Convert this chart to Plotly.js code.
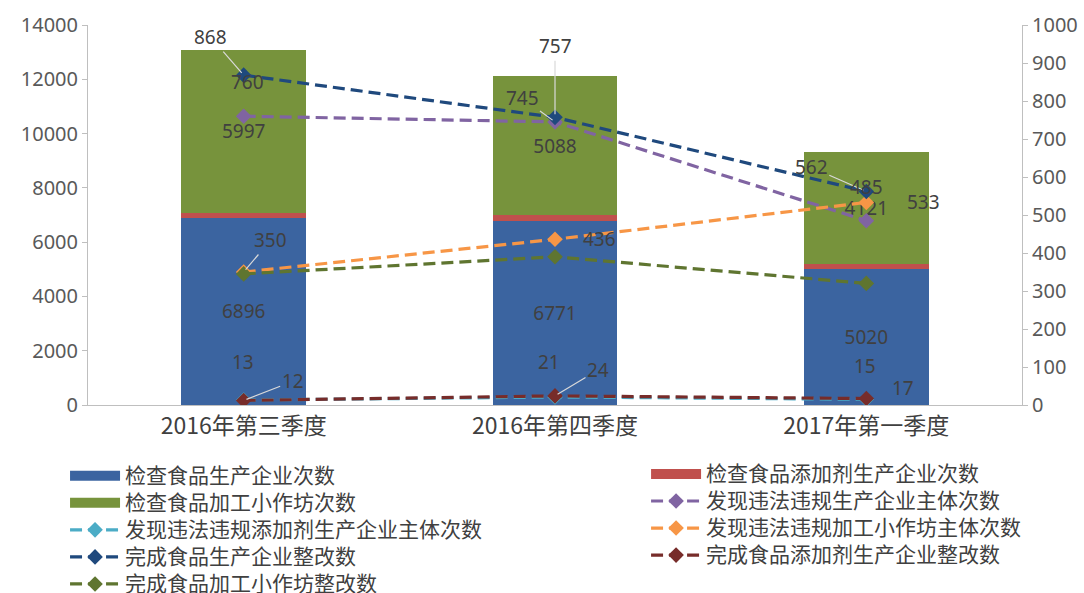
<!DOCTYPE html>
<html>
<head>
<meta charset="utf-8">
<script src="https://cdn.plot.ly/plotly-3.0.1.min.js"></script>
<style>html,body{margin:0;padding:0;background:#fff;}#chart{width:1084px;height:593px;}</style>
</head>
<body>
<div id="chart"></div>
<script>
// ---- data ----
const categories = ['2016年第三季度', '2016年第四季度', '2017年第一季度'];
const prodInspect = [6896, 6771, 5020];       // 检查食品生产企业次数
const additiveInspect = [185, 245, 180];      // 检查食品添加剂生产企业次数
const workshopInspect = [5997, 5088, 4121];   // 检查食品加工小作坊次数
const violProd = [760, 745, 485];             // 发现违法违规生产企业主体次数
const violAdditive = [13, 21, 15];            // 发现违法违规添加剂生产企业主体次数
const violWorkshop = [350, 436, 533];         // 发现违法违规加工小作坊主体次数
const rectProd = [868, 757, 562];             // 完成食品生产企业整改数
const rectAdditive = [12, 24, 17];            // 完成食品添加剂生产企业整改数
const rectWorkshop = [345, 390, 320];         // 完成食品加工小作坊整改数

const names = {
  prodInspect: '检查食品生产企业次数',
  additiveInspect: '检查食品添加剂生产企业次数',
  workshopInspect: '检查食品加工小作坊次数',
  violProd: '发现违法违规生产企业主体次数',
  violAdditive: '发现违法违规添加剂生产企业主体次数',
  violWorkshop: '发现违法违规加工小作坊主体次数',
  rectProd: '完成食品生产企业整改数',
  rectAdditive: '完成食品添加剂生产企业整改数',
  rectWorkshop: '完成食品加工小作坊整改数'
};

const C = {
  blue: '#3b64a0', red: '#c0504d', green: '#77933c',
  purple: '#8064a2', cyan: '#4bacc6', orange: '#f79646',
  darkblue: '#1f497d', darkred: '#772c2a', olive: '#5f7530'
};

const FONT = 'Noto Sans, Noto Sans CJK SC, sans-serif';
const labelFont = {family: FONT, size: 19, color: '#404040'};

function legendName(n) {
  return '<span style="font-size:21px">' + n + '</span>';
}

function bar(y, name, color, showText) {
  return {
    type: 'bar', x: categories, y: y, name: name, showlegend: false,
    marker: {color: color},
    text: showText ? y.map(String) : undefined,
    textposition: showText ? 'inside' : 'none',
    insidetextanchor: 'middle', textangle: 0, constraintext: 'none',
    textfont: labelFont, hoverinfo: 'skip'
  };
}
function legendRect(name, color, legend) {
  return {
    type: 'scatter', mode: 'lines', x: [null], y: [null], name: legendName(name),
    line: {color: color, width: 13}, legend: legend, hoverinfo: 'skip'
  };
}
function line(y, name, color, legend) {
  return {
    type: 'scatter', mode: 'lines+markers', x: categories, y: y, name: legendName(name),
    yaxis: 'y2', legend: legend,
    line: {color: color, width: 3.2, dash: '12px,6px'},
    marker: {symbol: 'diamond', size: 12, color: color},
    hoverinfo: 'skip'
  };
}

const traces = [
  bar(prodInspect, names.prodInspect, C.blue, true),
  bar(additiveInspect, names.additiveInspect, C.red, false),
  bar(workshopInspect, names.workshopInspect, C.green, true),
  legendRect(names.prodInspect, C.blue, 'legend'),
  legendRect(names.workshopInspect, C.green, 'legend'),
  legendRect(names.additiveInspect, C.red, 'legend2'),
  line(violProd, names.violProd, C.purple, 'legend2'),
  line(violAdditive, names.violAdditive, C.cyan, 'legend'),
  line(violWorkshop, names.violWorkshop, C.orange, 'legend2'),
  line(rectProd, names.rectProd, C.darkblue, 'legend'),
  line(rectAdditive, names.rectAdditive, C.darkred, 'legend2'),
  line(rectWorkshop, names.rectWorkshop, C.olive, 'legend')
];

// label placement: [series, index, dx, dy, leader]
const labelSpecs = [
  [rectProd, 0, -33, -38, true],
  [violProd, 0, 4, -34, false],
  [violWorkshop, 0, 27, -32, true],
  [violAdditive, 0, -1, -38, false],
  [rectAdditive, 0, 49, -19, true],
  [rectProd, 1, 0, -71, true],
  [violProd, 1, -33, -24, true],
  [violWorkshop, 1, 44, 0, false],
  [violAdditive, 1, -6, -35, false],
  [rectAdditive, 1, 43, -26, true],
  [rectProd, 2, -55, -24, true],
  [violProd, 2, 0, -34, false],
  [violWorkshop, 2, 57, 0, false],
  [violAdditive, 2, -1, -33, false],
  [rectAdditive, 2, 37, -11, false]
];
const annotations = labelSpecs.map(function (s) {
  const base = {
    x: categories[s[1]], y: s[0][s[1]], xref: 'x', yref: 'y2',
    text: String(s[0][s[1]]), font: labelFont
  };
  if (s[4]) {
    return Object.assign(base, {showarrow: true, ax: s[2], ay: s[3], arrowhead: 0,
      arrowwidth: 1.2, arrowcolor: '#d9d9d9', standoff: 3});
  }
  return Object.assign(base, {showarrow: false, xshift: s[2], yshift: -s[3]});
});

const axisCommon = {
  showgrid: false, zeroline: false, showline: true, linecolor: '#bfbfbf', linewidth: 1,
  ticks: 'outside', ticklen: 5, tickcolor: '#bfbfbf',
  tickfont: {family: FONT, size: 20, color: '#595959'}
};

const legendCommon = {
  xref: 'container', yref: 'container', xanchor: 'left', yanchor: 'top',
  orientation: 'v', traceorder: 'normal', itemwidth: 50, bgcolor: 'rgba(0,0,0,0)',
  font: {family: 'Noto Sans CJK SC, sans-serif', size: 18.5, color: '#404040'}
};

const layout = {
  width: 1084, height: 593,
  margin: {l: 88, r: 62, t: 25, b: 188, autoexpand: false},
  paper_bgcolor: '#ffffff', plot_bgcolor: '#ffffff',
  barmode: 'stack', bargap: 0.6,
  font: {family: FONT, color: '#404040'},
  xaxis: {
    showgrid: false, zeroline: false, showline: true, linecolor: '#bfbfbf', linewidth: 1,
    ticks: '', tickfont: {family: 'Noto Sans CJK SC, sans-serif', size: 23, color: '#404040'}
  },
  yaxis: Object.assign({range: [0, 14000], dtick: 2000, tickformat: 'd'}, axisCommon),
  yaxis2: Object.assign({range: [0, 1000], dtick: 100, overlaying: 'y', side: 'right'}, axisCommon),
  legend: Object.assign({x: 0.060, y: 0.229}, legendCommon),
  legend2: Object.assign({x: 0.596, y: 0.232}, legendCommon),
  annotations: annotations,
  showlegend: true
};

Plotly.newPlot('chart', traces, layout, {displayModeBar: false, staticPlot: true});
</script>
</body>
</html>
